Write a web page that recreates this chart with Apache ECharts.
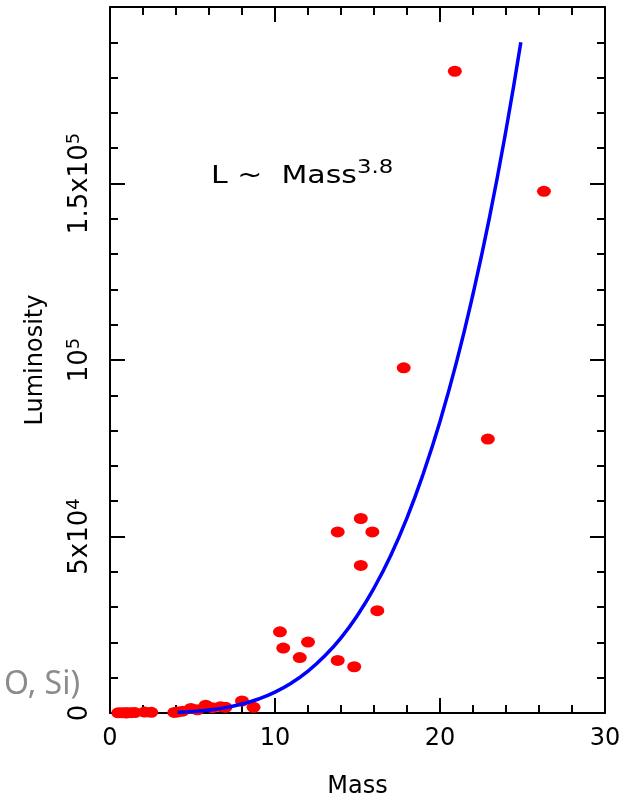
<!DOCTYPE html>
<html>
<head>
<meta charset="utf-8">
<title>Mass-Luminosity</title>
<script src="https://cdn.jsdelivr.net/npm/echarts@6/dist/echarts.min.js"></script>
<style>
  html, body { margin: 0; padding: 0; background: #ffffff; }
  #chart { width: 625px; height: 796px; }
</style>
</head>
<body>
<div id="chart"></div>
<script>
// stars (solar units)
const starMass = [0.5, 0.7, 0.9, 1.0, 1.1, 1.3, 1.5, 2.1, 2.5,
  3.9, 4.1, 4.4, 4.9, 5.3, 5.8, 6.2, 6.7, 7.0, 8.0, 8.7,
  10.3, 10.5, 11.5, 12.0, 13.8, 13.8, 14.8, 15.2, 15.2, 15.9, 16.2,
  17.8, 20.9, 22.9, 26.3]
const starLum = [50, 80, 60, 30, 100, 90, 120, 250, 200,
  150, 300, 500, 1300, 900, 2200, 1500, 1800, 1600, 3400, 1600,
  23000, 18400, 15700, 20100, 51300, 14900, 13100, 55100, 41800, 51300, 29000,
  97800, 181800, 77600, 147800]

// L ~ Mass^3.8 curve, read at whole masses
const curveMass = [4.1, 5, 6, 7, 8, 9, 10, 11, 12, 13, 14, 15, 16, 17, 18, 19, 20, 21, 22, 23, 24, 24.9]
const curveLum = [200, 430, 850, 1530, 2540, 3970, 5930, 8500, 11850, 16100, 21300, 27700,
  35400, 44500, 55300, 68000, 82600, 99400, 118700, 140400, 165100, 190000]

const xTickLabels = ['0', '10', '20', '30']
const yTickValues = [0, 50000, 100000, 150000]
const yTickBase = ['0', '5x10', '10', '1.5x10']
const yTickExp = ['', '4', '5', '5']

const chart = echarts.init(document.getElementById('chart'))

const frameAxis = {
  axisLine: { show: true, onZero: false, lineStyle: { color: '#000', width: 2 } },
  axisTick: { show: true, inside: true, length: 15, lineStyle: { color: '#000', width: 2 } },
  minorTick: { show: true, splitNumber: 5, length: 8, lineStyle: { color: '#000', width: 2 } },
  splitLine: { show: false },
  minorSplitLine: { show: false }
}

chart.setOption({
  backgroundColor: '#ffffff',
  animation: false,
  grid: { left: 110, right: 20, top: 7, bottom: 83, containLabel: false, outerBoundsMode: 'none' },
  xAxis: [
    Object.assign({}, frameAxis, {
      type: 'value',
      position: 'bottom',
      min: 0,
      max: 30,
      interval: 10,
      name: 'Mass',
      nameLocation: 'middle',
      nameGap: 62,
      nameTextStyle: { fontFamily: 'DejaVu Sans', fontSize: 24, color: '#000' },
      axisLabel: {
        margin: 14,
        fontFamily: 'DejaVu Sans',
        fontSize: 24,
        color: '#000',
        formatter: v => xTickLabels[Math.round(v / 10)]
      }
    }),
    Object.assign({}, frameAxis, {
      type: 'value',
      position: 'top',
      min: 0,
      max: 30,
      interval: 10,
      axisLabel: { show: false }
    })
  ],
  yAxis: [
    Object.assign({}, frameAxis, {
      type: 'value',
      position: 'left',
      min: 0,
      max: 200000,
      interval: 50000,
      name: 'Luminosity',
      nameLocation: 'middle',
      nameRotate: 90,
      nameGap: 62,
      nameTextStyle: { fontFamily: 'DejaVu Sans', fontSize: 24, color: '#000' },
      axisLabel: {
        rotate: 90,
        margin: 14,
        fontFamily: 'DejaVu Sans',
        fontSize: 26,
        color: '#000',
        formatter: v => {
          const i = yTickValues.indexOf(v)
          if (i < 0) return ''
          return yTickExp[i] ? '{m|' + yTickBase[i] + '}{s|' + yTickExp[i] + '}' : '{m|' + yTickBase[i] + '}'
        },
        rich: {
          m: { fontFamily: 'DejaVu Sans', fontSize: 26, color: '#000', lineHeight: 31 },
          s: { fontFamily: 'DejaVu Sans', fontSize: 18, color: '#000', verticalAlign: 'top' }
        }
      }
    }),
    Object.assign({}, frameAxis, {
      type: 'value',
      position: 'right',
      min: 0,
      max: 200000,
      interval: 50000,
      axisLabel: { show: false }
    })
  ],
  graphic: [
    {
      type: 'text',
      x: 211,
      y: 176,
      scaleX: 1.2,
      style: {
        text: '{a|L ~  Mass}{b|3.8}',
        textVerticalAlign: 'middle',
        rich: {
          a: { fontFamily: 'DejaVu Sans', fontSize: 25, fill: '#000', lineHeight: 35 },
          b: { fontFamily: 'DejaVu Sans', fontSize: 19, fill: '#000', verticalAlign: 'top' }
        }
      }
    },
    {
      type: 'text',
      x: 4,
      y: 685,
      style: {
        text: 'O, Si)',
        font: '32px "Noto Sans"',
        fill: '#8c8c8c',
        textVerticalAlign: 'middle'
      }
    }
  ],
  series: [
    {
      name: 'L ~ Mass^3.8',
      type: 'line',
      xAxisIndex: 0,
      yAxisIndex: 0,
      smooth: true,
      showSymbol: false,
      lineStyle: { color: '#0000ff', width: 3.5 },
      data: curveMass.map((m, i) => [m, curveLum[i]])
    },
    {
      name: 'stars',
      type: 'scatter',
      xAxisIndex: 0,
      yAxisIndex: 0,
      symbol: 'circle',
      symbolSize: [14, 11],
      itemStyle: { color: '#ff0000', opacity: 1 },
      data: starMass.map((m, i) => [m, starLum[i]])
    }
  ]
})
</script>
</body>
</html>
